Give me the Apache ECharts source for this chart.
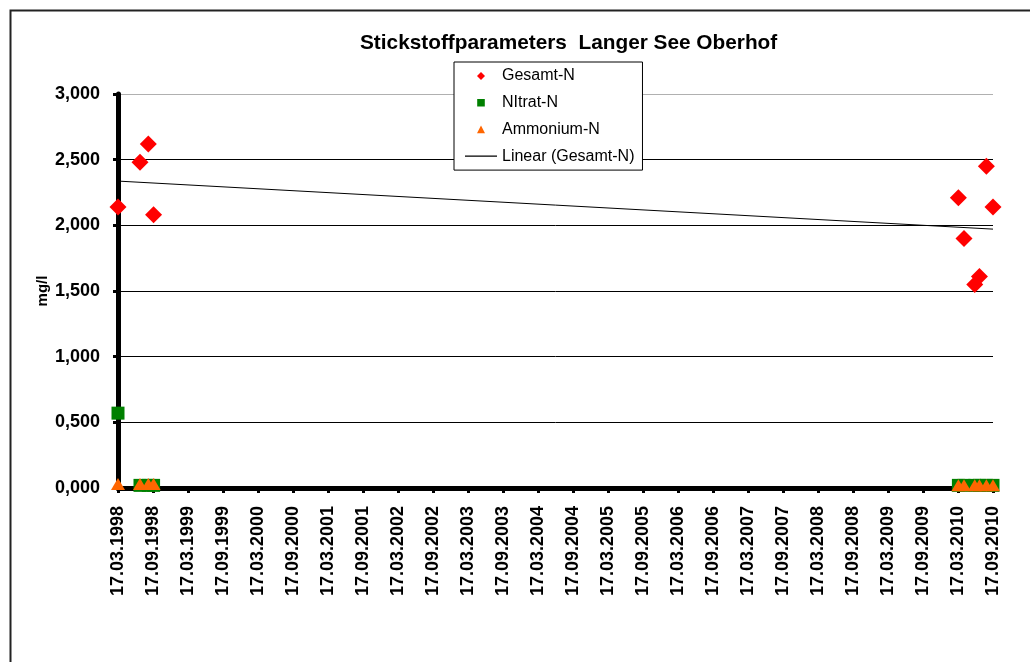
<!DOCTYPE html>
<html>
<head>
<meta charset="utf-8">
<script src="https://cdn.jsdelivr.net/npm/echarts@6/dist/echarts.min.js"></script>
<style>
html,body{margin:0;padding:0;background:#fff;}
#chart{width:1030px;height:662px;}
</style>
</head>
<body>
<div id="chart"></div>
<script>
// ---- data ----
const titleText = 'Stickstoffparameters  Langer See Oberhof';
const yAxisName = 'mg/l';
const seriesNames = ['Gesamt-N', 'NItrat-N', 'Ammonium-N', 'Linear (Gesamt-N)'];
const sampleDates = ['17.03.1998','10.07.1998','23.08.1998','20.09.1998',
                     '19.03.2010','18.04.2010','13.06.2010','07.07.2010','13.08.2010','17.09.2010'];
const gesamtN   = [2.14, 2.48, 2.62, 2.08, 2.21, 1.90, 1.55, 1.61, 2.45, 2.14];
const nitratN   = [0.57, 0.02, 0.02, 0.02, 0.02, 0.02, 0.02, 0.02, 0.02, 0.02];
const ammoniumN = [0.03, 0.03, 0.03, 0.03, 0.02, 0.02, 0.02, 0.02, 0.02, 0.02];
const axisStart = '17.03.1998';   // first x tick
const axisEnd   = '17.09.2010';   // last x tick
const tickMonths = 6;             // x tick step (months)
const yMin = 0, yMax = 3, yStep = 0.5;

// ---- helpers ----
function parseDate(s){ const p = s.split('.').map(Number); return {d:p[0], m:p[1], y:p[2]}; }
const base = parseDate(axisStart);
function toMonths(s){
  const p = parseDate(s);
  return (p.y - base.y) * 12 + (p.m - base.m) + (p.d - base.d) / 30.4;
}
function monthLabel(v){
  const total = (base.m - 1) + Math.round(v);
  const yr = base.y + Math.floor(total / 12);
  const mo = total % 12 + 1;
  return String(base.d).padStart(2,'0') + '.' + String(mo).padStart(2,'0') + '.' + yr;
}
const xs = sampleDates.map(toMonths);
const xMax = toMonths(axisEnd);

// linear trendline (least squares) of Gesamt-N
const n = xs.length;
const mx = xs.reduce((a,b)=>a+b,0)/n;
const my = gesamtN.reduce((a,b)=>a+b,0)/n;
let sxy = 0, sxx = 0;
for (let i=0;i<n;i++){ sxy += (xs[i]-mx)*(gesamtN[i]-my); sxx += (xs[i]-mx)*(xs[i]-mx); }
const slope = sxy/sxx, icpt = my - slope*mx;
const xLo = Math.min(...xs), xHi = Math.max(...xs);
const trend = [[xLo, icpt + slope*xLo], [xHi, icpt + slope*xHi]];

const pair = arr => xs.map((x,i)=>[x, arr[i]]);

// legend icons: small centred marks inside a 32x8 box (invisible zero-area corners fix the box)
const BOX = 'M0,0L0.01,0Z M32,8L31.99,8Z ';
const iconDiamond  = 'path://' + BOX + 'M16,0L20,4L16,8L12,4Z';
const iconSquare   = 'path://' + BOX + 'M12.2,0.2H19.8V7.8H12.2Z';
const iconTriangle = 'path://' + BOX + 'M16,0.2L20,7.8L12,7.8Z';
const iconLine     = 'path://' + BOX + 'M0,3.4H32V4.6H0Z';

const FONT = '"Liberation Sans", Arial, sans-serif';
const chart = echarts.init(document.getElementById('chart'), null, {renderer:'canvas'});
chart.setOption({
  animation: false,
  backgroundColor: '#fff',
  graphic: [{
    type: 'rect', left: 8, top: 8, silent: true, z: -10,
    shape: {width: 1100, height: 700},
    style: {fill: 'none', stroke: '#222', lineWidth: 2}
  }],
  title: {
    text: titleText, left: 360, top: 33, padding: 0,
    textStyle: {fontFamily: FONT, fontSize: 20.8, fontWeight: 'bold', color: '#000'}
  },
  legend: {
    orient: 'vertical', left: 454, top: 62,
    padding: [6, 8, 6, 11],
    itemWidth: 32, itemHeight: 8, itemGap: 10.7,
    backgroundColor: '#fff', borderColor: '#000', borderWidth: 1,
    data: [
      {name: seriesNames[0], icon: iconDiamond},
      {name: seriesNames[1], icon: iconSquare},
      {name: seriesNames[2], icon: iconTriangle},
      {name: seriesNames[3], icon: iconLine, itemStyle: {color: '#000', borderWidth: 0}}
    ],
    textStyle: {fontFamily: FONT, fontSize: 16, color: '#000', lineHeight: 16}
  },
  grid: {left: 118, right: 37, top: 94, bottom: 174, containLabel: false},
  xAxis: {
    type: 'value', min: 0, max: xMax, interval: tickMonths,
    axisLine: {show: true, onZero: false, lineStyle: {color: '#000', width: 5}},
    axisTick: {show: true, length: 5, lineStyle: {color: '#000', width: 3}},
    splitLine: {show: false},
    axisLabel: {
      rotate: 90, margin: 18, color: '#000',
      fontFamily: FONT, fontSize: 18, fontWeight: 'bold',
      formatter: v => monthLabel(v)
    }
  },
  yAxis: {
    type: 'value', min: yMin, max: yMax, interval: yStep,
    name: yAxisName, nameLocation: 'middle', nameRotate: 90, nameGap: 68,
    nameMoveOverlap: false,
    nameTextStyle: {fontFamily: FONT, fontSize: 15, fontWeight: 'bold', color: '#000'},
    axisLine: {show: true, lineStyle: {color: '#000', width: 5}},
    axisTick: {show: true, length: 5, lineStyle: {color: '#000', width: 3}},
    splitLine: {show: true, lineStyle: {color: ['#000','#000','#000','#000','#000','#000','#b0b0b0'], width: 1}},
    axisLabel: {
      margin: 18, color: '#000',
      fontFamily: FONT, fontSize: 18, fontWeight: 'bold',
      formatter: v => v.toFixed(3).replace('.', ',')
    }
  },
  series: [
    {name: seriesNames[0], type: 'scatter', symbol: 'diamond', symbolSize: 17, clip: false,
     itemStyle: {color: '#ff0000', opacity: 1}, data: pair(gesamtN), z: 3},
    {name: seriesNames[1], type: 'scatter', symbol: 'rect', symbolSize: 13, clip: false,
     itemStyle: {color: '#008000', opacity: 1}, data: pair(nitratN), z: 3},
    {name: seriesNames[2], type: 'scatter', symbol: 'triangle', symbolSize: [14, 12], clip: false,
     itemStyle: {color: '#ff6600', opacity: 1}, data: pair(ammoniumN), z: 3},
    {name: seriesNames[3], type: 'line', symbol: 'none', silent: true,
     lineStyle: {color: '#000', width: 1}, itemStyle: {color: '#000'},
     data: trend, z: 4}
  ]
});
</script>
</body>
</html>
